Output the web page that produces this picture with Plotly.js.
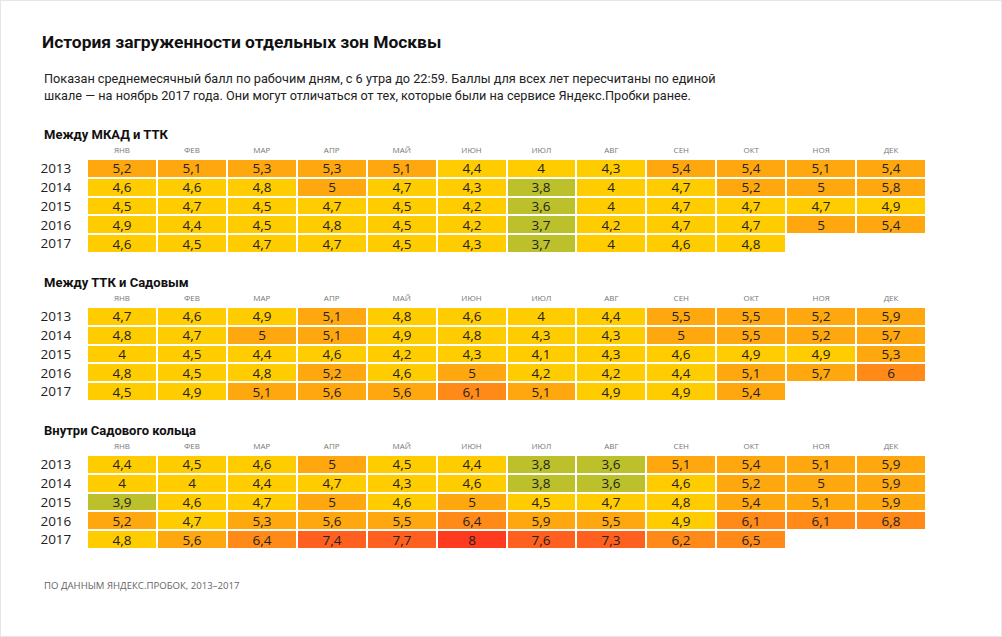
<!DOCTYPE html>
<html><head><meta charset="utf-8">
<script src="https://cdn.plot.ly/plotly-3.0.1.min.js"></script>
<style>html,body{margin:0;padding:0;background:#fff;}#chart{width:1002px;height:637px;}</style>
</head><body><div id="chart"></div>
<script>
const months = ['ЯНВ','ФЕВ','МАР','АПР','МАЙ','ИЮН','ИЮЛ','АВГ','СЕН','ОКТ','НОЯ','ДЕК'];
const years = ['2013','2014','2015','2016','2017'];
const zoneNames = ['Между МКАД и ТТК','Между ТТК и Садовым','Внутри Садового кольца'];

const mkadTtk = [
  [5.2,5.1,5.3,5.3,5.1,4.4,4.0,4.3,5.4,5.4,5.1,5.4],
  [4.6,4.6,4.8,5.0,4.7,4.3,3.8,4.0,4.7,5.2,5.0,5.8],
  [4.5,4.7,4.5,4.7,4.5,4.2,3.6,4.0,4.7,4.7,4.7,4.9],
  [4.9,4.4,4.5,4.8,4.5,4.2,3.7,4.2,4.7,4.7,5.0,5.4],
  [4.6,4.5,4.7,4.7,4.5,4.3,3.7,4.0,4.6,4.8,null,null]
];
const ttkSadovoe = [
  [4.7,4.6,4.9,5.1,4.8,4.6,4.0,4.4,5.5,5.5,5.2,5.9],
  [4.8,4.7,5.0,5.1,4.9,4.8,4.3,4.3,5.0,5.5,5.2,5.7],
  [4.0,4.5,4.4,4.6,4.2,4.3,4.1,4.3,4.6,4.9,4.9,5.3],
  [4.8,4.5,4.8,5.2,4.6,5.0,4.2,4.2,4.4,5.1,5.7,6.0],
  [4.5,4.9,5.1,5.6,5.6,6.1,5.1,4.9,4.9,5.4,null,null]
];
const insideSadovoe = [
  [4.4,4.5,4.6,5.0,4.5,4.4,3.8,3.6,5.1,5.4,5.1,5.9],
  [4.0,4.0,4.4,4.7,4.3,4.6,3.8,3.6,4.6,5.2,5.0,5.9],
  [3.9,4.6,4.7,5.0,4.6,5.0,4.5,4.7,4.8,5.4,5.1,5.9],
  [5.2,4.7,5.3,5.6,5.5,6.4,5.9,5.5,4.9,6.1,6.1,6.8],
  [4.8,5.6,6.4,7.4,7.7,8.0,7.6,7.3,6.2,6.5,null,null]
];
const zones = [mkadTtk, ttkSadovoe, insideSadovoe];

const W = 1002, H = 637;
const zmin = 3, zmax = 9;
const cols = ['#bcc02a','#ffcc00','#ffa70e','#ff8a18','#ff601f','#ff3b1f'];
const bounds = [3.95,4.95,5.95,6.95,7.95];
function nz(v){return (v - zmin)/(zmax - zmin);}
const colorscale = [[0, cols[0]]];
bounds.forEach((b,i)=>{ colorscale.push([nz(b), cols[i]]); colorscale.push([nz(b), cols[i+1]]); });
colorscale.push([1, cols[cols.length-1]]);

const fmt = v => v === null ? '' : String(v).replace('.', ',');

const panelTops = [159, 307, 455];
const panelH = 94;
const x0 = 87, x1 = 926;

const traces = [];
const layout = {
  width: W, height: H,
  margin: {l:0,r:0,t:0,b:0},
  paper_bgcolor: '#fff', plot_bgcolor: '#fff',
  font: {family: 'Roboto, "Open Sans", sans-serif', color: '#222'},
  showlegend: false,
  title: {text: 'История загруженности отдельных зон Москвы', x: 42/W, xanchor: 'left', xref: 'paper',
          y: 1 - 42/H, yanchor: 'middle', yref: 'paper',
          font: {size: 17.4, color: '#111', weight: 'bold', family: 'Roboto, sans-serif'}},
  annotations: [],
  shapes: [{type:'rect', xref:'paper', yref:'paper', x0:0, x1:1, y0:0, y1:1, line:{color:'#e6e6e6', width:2}}]
};

zones.forEach((z, i) => {
  const n = i === 0 ? '' : String(i+1);
  traces.push({
    type: 'heatmap',
    x: months, y: years, z: z,
    text: z.map(r => r.map(fmt)),
    texttemplate: '%{text}',
    textfont: {size: 13.5, color: '#222', family: '"Open Sans", sans-serif'},
    colorscale: colorscale, zmin: zmin, zmax: zmax, showscale: false,
    xgap: 2, ygap: 2, hoverongaps: false,
    xaxis: 'x' + n, yaxis: 'y' + n
  });
  const top = panelTops[i], bot = top + panelH;
  layout['xaxis' + n] = {
    domain: [x0/W, x1/W], anchor: 'y' + n, side: 'top', type: 'category',
    showgrid: false, zeroline: false, showline: false, ticks: 'outside', ticklen: 2, tickcolor: 'rgba(0,0,0,0)',
    tickfont: {size: 8, color: '#777', family: '"Open Sans", sans-serif'}, fixedrange: true
  };
  layout['yaxis' + n] = {
    domain: [1 - bot/H, 1 - top/H], anchor: 'x' + n, type: 'category', autorange: 'reversed',
    showgrid: false, zeroline: false, showline: false, ticks: 'outside', ticklen: 12, tickcolor: 'rgba(0,0,0,0)',
    tickfont: {size: 13.5, color: '#222', family: '"Open Sans", sans-serif'}, fixedrange: true
  };
  layout.annotations.push({
    text: '<b>' + zoneNames[i] + '</b>', xref: 'paper', yref: 'paper', x: 42/W, xanchor: 'left',
    y: 1 - (top - 25)/H, yanchor: 'middle', showarrow: false,
    font: {size: 13, color: '#111', family: 'Roboto, sans-serif'}
  });
});

layout.annotations.push({
  text: 'Показан среднемесячный балл по рабочим дням, с 6 утра до 22:59. Баллы для всех лет пересчитаны по единой<br>шкале — на ноябрь 2017 года. Они могут отличаться от тех, которые были на сервисе Яндекс.Пробки ранее.',
  xref: 'paper', yref: 'paper', x: 42/W, xanchor: 'left', y: 1 - 87/H, yanchor: 'middle', align: 'left',
  showarrow: false, font: {size: 12.7, color: '#222', family: 'Roboto, sans-serif'}
});
layout.annotations.push({
  text: 'ПО ДАННЫМ ЯНДЕКС.ПРОБОК, 2013–2017',
  xref: 'paper', yref: 'paper', x: 42/W, xanchor: 'left', y: 1 - 585/H, yanchor: 'middle',
  showarrow: false, font: {size: 9.6, color: '#666', family: '"Open Sans", sans-serif'}
});

Plotly.newPlot('chart', traces, layout, {displayModeBar: false, staticPlot: true});
</script>
</body></html>
